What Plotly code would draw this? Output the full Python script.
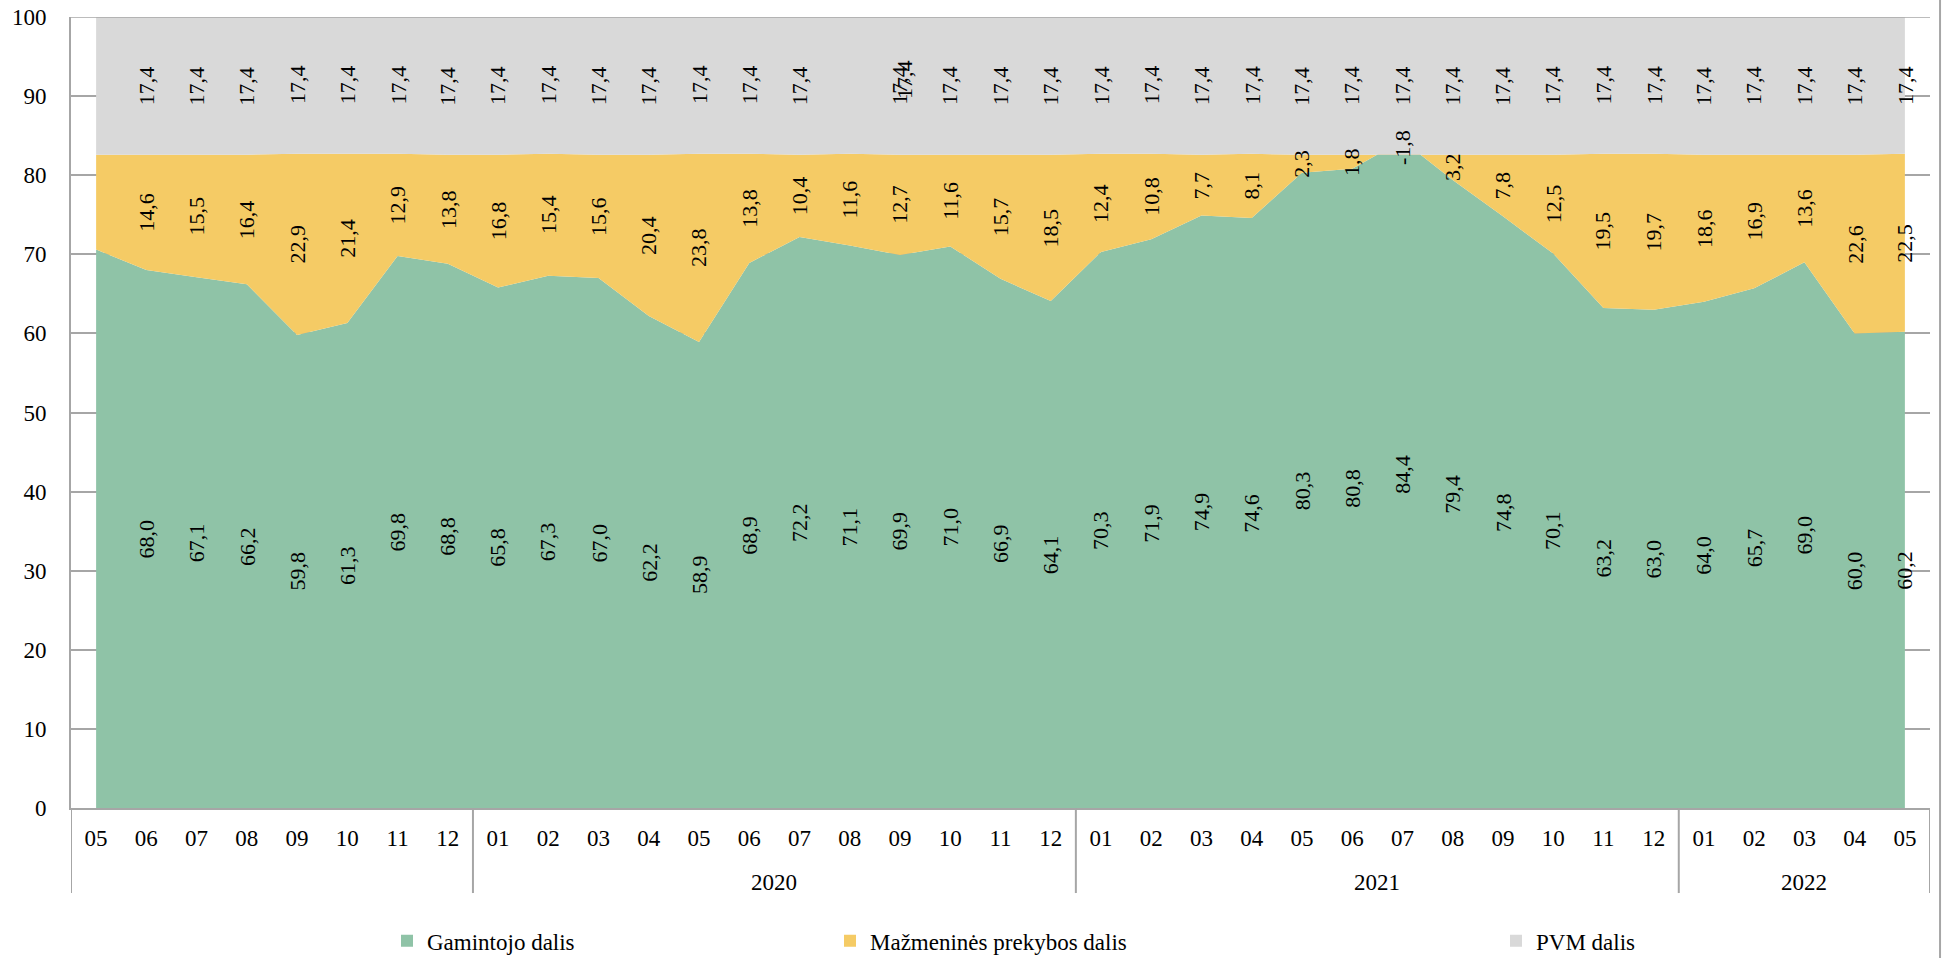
import plotly.graph_objects as go

months = ["05", "06", "07", "08", "09", "10", "11", "12",
          "01", "02", "03", "04", "05", "06", "07", "08", "09", "10", "11", "12",
          "01", "02", "03", "04", "05", "06", "07", "08", "09", "10", "11", "12",
          "01", "02", "03", "04", "05"]
years = ["2019"] * 8 + ["2020"] * 12 + ["2021"] * 12 + ["2022"] * 5
year_labels = {"2019": "", "2020": "2020", "2021": "2021", "2022": "2022"}

gamintojo = [70.6, 68.0, 67.1, 66.2, 59.8, 61.3, 69.8, 68.8,
             65.8, 67.3, 67.0, 62.2, 58.9, 68.9, 72.2, 71.1, 69.9, 71.0, 66.9, 64.1,
             70.3, 71.9, 74.9, 74.6, 80.3, 80.8, 84.4, 79.4, 74.8, 70.1, 63.2, 63.0,
             64.0, 65.7, 69.0, 60.0, 60.2]
mazmenine = [12.0, 14.6, 15.5, 16.4, 22.9, 21.4, 12.9, 13.8,
             16.8, 15.4, 15.6, 20.4, 23.8, 13.8, 10.4, 11.6, 12.7, 11.6, 15.7, 18.5,
             12.4, 10.8, 7.7, 8.1, 2.3, 1.8, -1.8, 3.2, 7.8, 12.5, 19.5, 19.7,
             18.6, 16.9, 13.6, 22.6, 22.5]
pvm = [17.4] * 37

names = ["Gamintojo dalis", "Mažmeninės prekybos dalis", "PVM dalis"]
colors = ["#8FC3A7", "#F5CB65", "#D9D9D9"]
series = [gamintojo, mazmenine, pvm]

FONT = "'Liberation Serif', 'Times New Roman', serif"
GRID = "#A6A6A6"
x = list(range(len(months)))

fig = go.Figure()
for s, nm, c in zip(series, names, colors):
    fig.add_trace(go.Scatter(
        x=x, y=s, name=nm, stackgroup="one", mode="none",
        fillcolor=c, line=dict(width=0), showlegend=False, hoverinfo="skip"))

# legend-only entries (three independent legends)
legend_keys = ["legend", "legend2", "legend3"]
for nm, c, lk in zip(names, colors, legend_keys):
    fig.add_trace(go.Scatter(
        x=[None], y=[None], name=nm, mode="markers",
        marker=dict(symbol="square", size=12, color=c),
        legend=lk, showlegend=True))

# data labels centered in each stacked segment
annotations = []
for i in x:
    if i == 0:
        continue
    base = 0.0
    for k, s in enumerate(series):
        v = s[i]
        mid = base + v / 2.0
        base += v
        xi = i
        yshift = 0
        xshift = 0
        if k == 2 and i == 15:
            xi = 16
            xshift = 4
            yshift = 5
        annotations.append(dict(
            x=xi, y=mid, xref="x", yref="y", text=f"{v:.1f}".replace(".", ","),
            textangle=-90, showarrow=False, xshift=xshift, yshift=yshift,
            font=dict(family=FONT, size=22, color="#000000"),
            xanchor="center", yanchor="middle"))

# year group labels
groups = []
for i, yv in enumerate(years):
    if not groups or groups[-1][0] != yv:
        groups.append([yv, i, i])
    else:
        groups[-1][2] = i
shapes = []
for yv, a, b in groups:
    annotations.append(dict(
        x=(a + b) / 2.0, y=-0.0936, xref="x", yref="paper",
        text=year_labels[yv], showarrow=False,
        font=dict(family=FONT, size=23, color="#000000"),
        xanchor="center", yanchor="middle"))
    shapes.append(dict(type="line", xref="x", yref="paper",
                       x0=a - 0.5, x1=a - 0.5, y0=0, y1=-0.1075,
                       line=dict(color=GRID, width=2)))
shapes.append(dict(type="line", xref="x", yref="paper",
                   x0=len(x) - 0.5, x1=len(x) - 0.5, y0=0, y1=-0.1075,
                   line=dict(color=GRID, width=2)))
# top border line at 100
shapes.append(dict(type="line", xref="paper", yref="y", x0=0, x1=1, y0=100, y1=100,
                   layer="above", line=dict(color=GRID, width=1.5)))
# chart frame line on the right
shapes.append(dict(type="line", xref="paper", yref="paper", x0=1.0054, x1=1.0054,
                   y0=-0.19, y1=1.0215, line=dict(color=GRID, width=2)))

leg_y = -0.168
leg_font = dict(family=FONT, size=23, color="#000000")
fig.update_layout(
    width=1946, height=958,
    margin=dict(l=71, r=16, t=17, b=150, autoexpand=False),
    paper_bgcolor="white", plot_bgcolor="white",
    font=dict(family=FONT, size=23, color="#000000"),
    annotations=annotations, shapes=shapes,
    xaxis=dict(range=[-0.5, len(x) - 0.5], tickmode="array", tickvals=x,
               ticktext=months, showgrid=False, ticks="", zeroline=False,
               showline=True, linecolor=GRID, linewidth=2,
               ticklabelstandoff=8, automargin=False, ticklabeloverflow="allow",
               tickfont=dict(family=FONT, size=23, color="#000000")),
    yaxis=dict(range=[0, 100], tickvals=list(range(0, 101, 10)),
               showgrid=True, gridcolor=GRID, gridwidth=1.5, zeroline=False,
               showline=True, linecolor=GRID, linewidth=2, ticks="",
               ticklabelstandoff=18, automargin=False, ticklabeloverflow="allow",
               tickfont=dict(family=FONT, size=23, color="#000000")),
    legend=dict(orientation="h", x=(387 - 71) / 1859, y=leg_y, xanchor="left", yanchor="middle",
                font=leg_font, bgcolor="rgba(0,0,0,0)"),
    legend2=dict(orientation="h", x=(830 - 71) / 1859, y=leg_y, xanchor="left", yanchor="middle",
                 font=leg_font, bgcolor="rgba(0,0,0,0)"),
    legend3=dict(orientation="h", x=(1496 - 71) / 1859, y=leg_y, xanchor="left", yanchor="middle",
                 font=leg_font, bgcolor="rgba(0,0,0,0)"),
)

fig.write_html("out.html", config={"displayModeBar": False},
               post_script="document.body.style.margin='0';")
